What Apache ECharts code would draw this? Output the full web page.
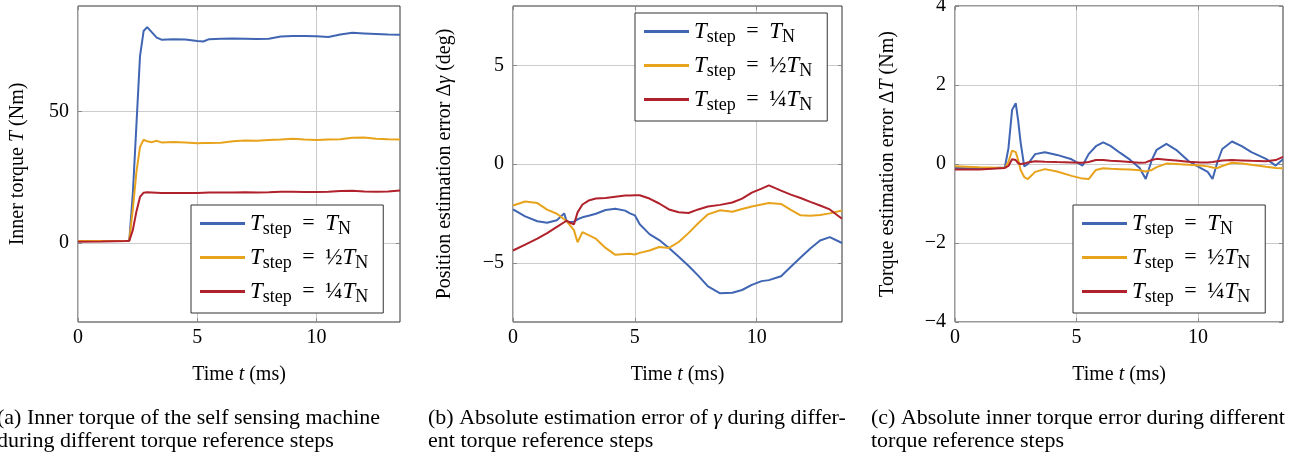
<!DOCTYPE html>
<html>
<head>
<meta charset="utf-8">
<script src="https://cdn.jsdelivr.net/npm/echarts@6/dist/echarts.min.js"></script>
<style>
html,body{margin:0;padding:0;background:#fff;}
#chart{width:1298px;height:461px;}
</style>
</head>
<body>
<div id="chart"></div>
<script>
// ---------- DATA ----------
var seriesNames = ['full', 'half', 'quarter'];
var xTicks = [0, 5, 10];
var yTicksA = [0, 50];
var yTicksB = [-5, 0, 5];
var yTicksC = [-4, -2, 0, 2, 4];

// Panel (a): inner torque T (Nm)
var timeA = [0, 1, 2, 2.15, 2.3, 2.45, 2.6, 2.75, 2.9, 3.1, 3.3, 3.5, 4, 4.5, 5, 5.25, 5.5, 6, 6.5, 7, 7.5, 8, 8.5, 9, 9.5, 10, 10.5, 11, 11.5, 12, 12.5, 13, 13.5];
var torqueFull = [0.8, 0.8, 0.8, 0.9, 19, 45, 71, 80.5, 82, 80, 78, 77.2, 77.4, 77.3, 76.7, 76.5, 77.4, 77.6, 77.7, 77.6, 77.5, 77.6, 78.4, 78.6, 78.6, 78.5, 78.2, 79.2, 79.8, 79.6, 79.4, 79.2, 79.1];
var torqueHalf = [0.8, 0.8, 0.8, 0.9, 13, 27, 36.5, 39.2, 38.6, 38.3, 38.8, 38.2, 38.4, 38.2, 37.9, 38.0, 38.0, 38.1, 38.6, 38.9, 38.8, 39.1, 39.3, 39.6, 39.3, 39.1, 39.3, 39.4, 40.0, 40.1, 39.6, 39.4, 39.3];
var torqueQuarter = [0.5, 0.6, 0.8, 0.9, 5, 12, 17.5, 19.1, 19.3, 19.2, 19.1, 19.0, 19.0, 19.0, 19.0, 19.1, 19.2, 19.2, 19.2, 19.3, 19.2, 19.3, 19.5, 19.5, 19.4, 19.4, 19.5, 19.7, 19.8, 19.6, 19.5, 19.6, 19.9];

// Panel (b): position estimation error (deg)
var timeB = [0, 0.5, 1, 1.4, 1.8, 2.1, 2.2, 2.3, 2.5, 2.65, 2.85, 3.1, 3.4, 3.8, 4.2, 4.6, 4.8, 5.0, 5.2, 5.6, 6.0, 6.4, 6.8, 7.2, 7.6, 8.0, 8.5, 9.0, 9.4, 9.8, 10.2, 10.5, 11.0, 11.4, 11.8, 12.2, 12.6, 13.0, 13.5];
var posErrFull = [-2.3, -2.65, -2.9, -2.97, -2.85, -2.5, -2.9, -2.94, -2.92, -2.8, -2.7, -2.62, -2.52, -2.33, -2.27, -2.36, -2.5, -2.6, -3.05, -3.55, -3.85, -4.25, -4.7, -5.15, -5.65, -6.2, -6.55, -6.52, -6.38, -6.12, -5.93, -5.88, -5.68, -5.2, -4.73, -4.28, -3.87, -3.7, -4.0];
var posErrHalf = [-2.1, -1.9, -1.98, -2.31, -2.52, -2.8, -2.89, -3.05, -3.35, -3.96, -3.45, -3.6, -3.78, -4.25, -4.6, -4.56, -4.55, -4.58, -4.5, -4.38, -4.2, -4.25, -3.95, -3.5, -3.0, -2.55, -2.34, -2.42, -2.28, -2.15, -2.05, -1.98, -2.02, -2.32, -2.6, -2.62, -2.58, -2.5, -2.35];
var posErrQuarter = [-4.38, -4.08, -3.78, -3.5, -3.18, -2.95, -2.87, -2.95, -3.06, -2.45, -2.05, -1.85, -1.75, -1.72, -1.66, -1.6, -1.6, -1.58, -1.58, -1.75, -2.0, -2.3, -2.44, -2.48, -2.3, -2.15, -2.07, -1.95, -1.75, -1.45, -1.25, -1.08, -1.35, -1.55, -1.72, -1.92, -2.1, -2.3, -2.77];

// Panel (c): torque estimation error (Nm)
var timeC = [0, 1, 2.05, 2.2, 2.35, 2.5, 2.6, 2.7, 2.85, 3.0, 3.3, 3.7, 4.2, 4.8, 5.25, 5.5, 5.8, 6.1, 6.4, 6.8, 7.2, 7.6, 7.85, 8.1, 8.3, 8.7, 9.1, 9.6, 10.1, 10.4, 10.6, 10.8, 11.0, 11.4, 11.8, 12.2, 12.8, 13.2, 13.5];
var torqErrFull = [-0.1, -0.12, -0.09, 0.4, 1.37, 1.54, 1.1, 0.55, -0.06, 0.0, 0.25, 0.3, 0.23, 0.12, -0.04, 0.25, 0.45, 0.55, 0.46, 0.28, 0.11, -0.1, -0.38, 0.1, 0.36, 0.51, 0.36, 0.08, -0.1, -0.2, -0.38, 0.05, 0.38, 0.57, 0.45, 0.3, 0.13, -0.04, 0.12];
var torqErrHalf = [-0.06, -0.08, -0.1, 0.05, 0.34, 0.3, 0.1, -0.15, -0.33, -0.38, -0.2, -0.13, -0.19, -0.3, -0.37, -0.38, -0.15, -0.11, -0.12, -0.13, -0.14, -0.16, -0.19, -0.15, -0.08, 0.01, 0.0, -0.02, -0.04, -0.06, -0.09, -0.1, -0.05, 0.03, 0.01, -0.02, -0.07, -0.1, -0.11];
var torqErrQuarter = [-0.14, -0.14, -0.1, -0.05, 0.12, 0.1, 0.02, 0.0, 0.01, 0.04, 0.07, 0.06, 0.05, 0.04, 0.03, 0.05, 0.1, 0.1, 0.08, 0.07, 0.05, 0.03, 0.04, 0.1, 0.13, 0.11, 0.09, 0.06, 0.04, 0.04, 0.05, 0.07, 0.09, 0.1, 0.09, 0.08, 0.07, 0.1, 0.18];

// ---------- STYLE ----------
var FONT = 'Liberation Serif';
var colors = ['#3f65b3', '#e8a31c', '#b0212b'];

function zip(t, v) { return t.map(function (x, i) { return [x, v[i]]; }); }
function fmt(v) { return String(v).replace('-', '\u2212'); }

var legendRich = {
  T: { fontFamily: FONT, fontStyle: 'italic', fontSize: 23, color: '#000' },
  s: { fontFamily: FONT, fontSize: 18, color: '#000', padding: [11, 0, 0, 0] },
  e: { fontFamily: FONT, fontSize: 22, color: '#000', padding: [0, 5, 0, 5] },
  f: { fontFamily: FONT, fontSize: 23, color: '#000' }
};
function legendFmt(name) {
  var frac = name === 'half' ? '{f|\u00BD}' : (name === 'quarter' ? '{f|\u00BC}' : '');
  return '{T|T}{s|step}{e| = }' + frac + '{T|T}{s|N}';
}

var grids = [
  { left: 78, top: 6, width: 322, height: 316 },
  { left: 513, top: 6, width: 329, height: 316 },
  { left: 955, top: 6, width: 328, height: 316 }
];
var yRanges = [[-30, 90, yTicksA], [-8, 8, yTicksB], [-4, 4, yTicksC]];
var yNames = [
  '{r|Inner torque }{i|T}{r| (Nm)}',
  '{r|Position estimation error \u0394}{i|\u03B3}{r| (deg)}',
  '{r|Torque estimation error \u0394}{i|T}{r| (Nm)}'
];
var yNameGaps = [50, 58, 57];
var nameRich = {
  r: { fontFamily: FONT, fontSize: 20, color: '#000' },
  i: { fontFamily: FONT, fontSize: 20, fontStyle: 'italic', color: '#000' }
};

var xAxes = [], yAxes = [], series = [], legends = [];
grids.forEach(function (g, i) {
  g.show = true; g.borderColor = '#333'; g.borderWidth = 1; g.backgroundColor = 'transparent';
  g.outerBoundsMode = 'none'; g.containLabel = false;
  var tickStyle = { show: true, inside: true, length: 4, customValues: xTicks, lineStyle: { color: '#888', width: 1 } };
  xAxes.push({
    type: 'value', gridIndex: i, position: 'bottom', min: 0, max: 13.5,
    axisLine: { show: false, onZero: false }, axisTick: tickStyle,
    axisLabel: { customValues: xTicks, formatter: fmt, fontFamily: FONT, fontSize: 20, color: '#000', margin: 6 },
    splitLine: { show: true, lineStyle: { color: '#cbcbcb', width: 1 } },
    name: '{r|Time }{i|t}{r| (ms)}', nameLocation: 'middle', nameGap: 43,
    nameTextStyle: { rich: nameRich }
  });
  xAxes.push({
    type: 'value', gridIndex: i, position: 'top', min: 0, max: 13.5,
    axisLine: { show: false, onZero: false }, axisTick: tickStyle,
    axisLabel: { show: false }, splitLine: { show: false }
  });
  var yr = yRanges[i];
  var yTickStyle = { show: true, inside: true, length: 4, customValues: yr[2], lineStyle: { color: '#888', width: 1 } };
  yAxes.push({
    type: 'value', gridIndex: i, position: 'left', min: yr[0], max: yr[1],
    axisLine: { show: false, onZero: false }, axisTick: yTickStyle,
    axisLabel: { customValues: yr[2], formatter: fmt, fontFamily: FONT, fontSize: 20, color: '#000', margin: 9 },
    splitLine: { show: true, lineStyle: { color: '#cbcbcb', width: 1 } },
    name: yNames[i], nameLocation: 'middle', nameGap: yNameGaps[i],
    nameTextStyle: { rich: nameRich }
  });
  yAxes.push({
    type: 'value', gridIndex: i, position: 'right', min: yr[0], max: yr[1],
    axisLine: { show: false, onZero: false }, axisTick: yTickStyle,
    axisLabel: { show: false }, splitLine: { show: false }
  });
});

var panelData = [
  [timeA, [torqueFull, torqueHalf, torqueQuarter]],
  [timeB, [posErrFull, posErrHalf, posErrQuarter]],
  [timeC, [torqErrFull, torqErrHalf, torqErrQuarter]]
];
panelData.forEach(function (p, i) {
  p[1].forEach(function (vals, k) {
    series.push({
      type: 'line', name: seriesNames[k], xAxisIndex: 2 * i, yAxisIndex: 2 * i,
      data: zip(p[0], vals), symbol: 'none', showSymbol: false,
      color: colors[k], lineStyle: { width: 2, color: colors[k] },
      animation: false, silent: true, z: 3
    });
  });
});

var legendPos = [{ left: 191, top: 205 }, { left: 635, top: 13 }, { left: 1073, top: 205 }];
legendPos.forEach(function (p) {
  legends.push({
    left: p.left, top: p.top, orient: 'vertical', data: seriesNames,
    icon: 'rect', itemWidth: 45, itemHeight: 3, itemGap: 8,
    padding: [7, 15, 7, 9], backgroundColor: '#fff', borderColor: '#333', borderWidth: 1, borderRadius: 0,
    formatter: legendFmt, textStyle: { rich: legendRich }, selectedMode: false, z: 10
  });
});

var capStyle = {
  fontFamily: FONT, fontSize: 22, fontWeight: 'normal', color: '#000', lineHeight: 23,
  rich: {
    r: { fontFamily: FONT, fontSize: 22, color: '#000', lineHeight: 23 },
    i: { fontFamily: FONT, fontSize: 22, fontStyle: 'italic', color: '#000', lineHeight: 23 }
  }
};
var titles = [
  { left: -3, top: 407, padding: 0, text: '{r|(a) Inner torque of the self sensing machine}\n{r|during different torque reference steps}', textStyle: capStyle },
  { left: 428, top: 407, padding: 0, text: '{r|(b) Absolute estimation error of }{i|\u03B3}{r| during differ-}\n{r|ent torque reference steps}', textStyle: capStyle },
  { left: 871, top: 407, padding: 0, text: '{r|(c) Absolute inner torque error during different}\n{r|torque reference steps}', textStyle: capStyle }
];

var chart = echarts.init(document.getElementById('chart'), null, { renderer: 'canvas' });
chart.setOption({
  animation: false,
  backgroundColor: '#fff',
  title: titles,
  grid: grids,
  xAxis: xAxes,
  yAxis: yAxes,
  legend: legends,
  series: series
});
</script>
</body>
</html>
